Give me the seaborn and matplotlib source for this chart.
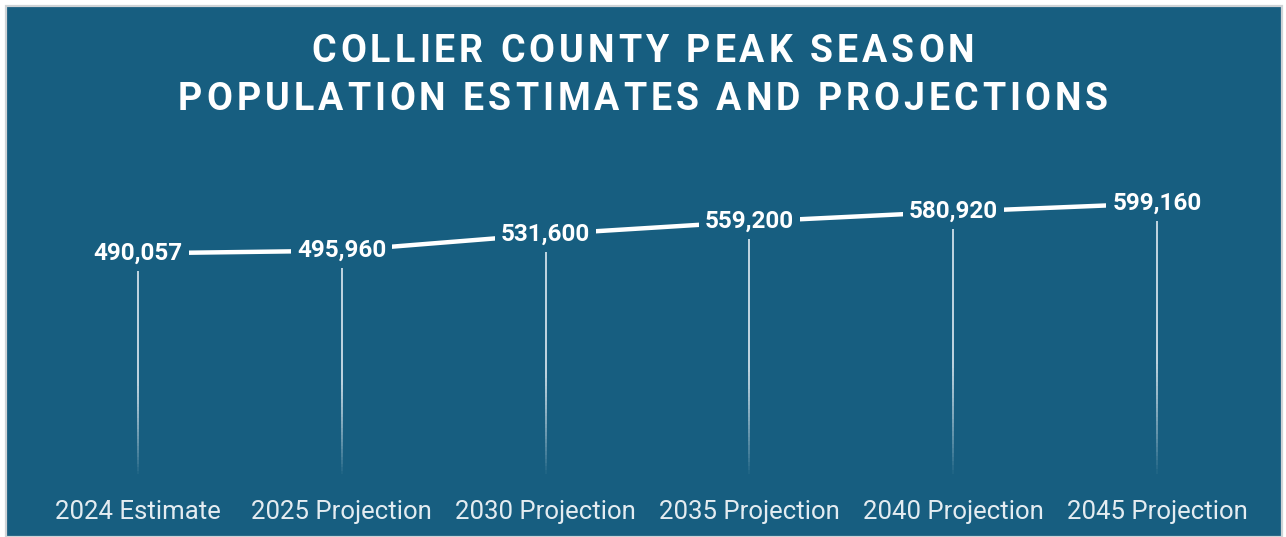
import numpy as np
import pandas as pd
import matplotlib
matplotlib.use("Agg")
import matplotlib.pyplot as plt
from matplotlib.patches import Rectangle
from matplotlib.collections import LineCollection
from matplotlib.font_manager import FontProperties
import seaborn as sns

# ---------------- DATA ----------------
periods = ["2024 Estimate", "2025 Projection", "2030 Projection",
           "2035 Projection", "2040 Projection", "2045 Projection"]
population = [490057, 495960, 531600, 559200, 580920, 599160]

title_lines = ["COLLIER COUNTY PEAK SEASON",
               "POPULATION ESTIMATES AND PROJECTIONS"]

# ---------------- STYLE ----------------
PANEL = "#175e80"
LABEL_COLOR = "#e4ecf1"

sns.set_theme(style="white")
plt.rcParams["font.family"] = ["Roboto", "DejaVu Sans"]

df = pd.DataFrame({"period": periods, "population": population})
df["pos"] = np.arange(len(df))

W, H = 1286, 537
fig = plt.figure(figsize=(W / 100, H / 100), dpi=100, facecolor="white")

# blue panel with thin gray border
fig.patches.append(Rectangle((6 / W, 0), 1276 / W, 531 / H,
                             transform=fig.transFigure, facecolor=PANEL,
                             edgecolor="#cfd3d6", linewidth=1.6, zorder=-1))

ax = fig.add_axes([0, 0.1099, 1, 0.6108], zorder=1)
ax.set_facecolor("none")

sns.lineplot(data=df, x="pos", y="population", color="white", linewidth=3.2,
             ax=ax, zorder=2)

ax.set_xlim(-0.677, 5.633)
ax.set_ylim(0, 715700)

# drop lines fading toward the bottom
gap = 36000
for x, v in zip(df["pos"], df["population"]):
    ys = np.linspace(v - gap, 0, 60)
    segs = [[(x, ys[i]), (x, ys[i + 1])] for i in range(len(ys) - 1)]
    frac = np.linspace(0, 1, len(segs))
    alphas = np.clip(1.15 - frac ** 2.2 * 1.15, 0, 0.85)
    cols = [(0.88, 0.92, 0.95, a) for a in alphas]
    ax.add_collection(LineCollection(segs, colors=cols, linewidths=1.4, zorder=1))

# value labels sitting on the line
for x, v in zip(df["pos"], df["population"]):
    ax.text(x, v, f"{v:,}", ha="center", va="center", color="white",
            fontsize=17.5, fontweight="bold", zorder=3,
            bbox=dict(boxstyle="square,pad=0.25", facecolor=PANEL, edgecolor="none"))

ax.set_xticks(df["pos"], periods)
ax.tick_params(axis="x", length=0, pad=15.5, labelsize=18.5, labelcolor=LABEL_COLOR)
ax.set_yticks([])
ax.set_xlabel("")
ax.set_ylabel("")
for s in ax.spines.values():
    s.set_visible(False)


# title with letter spacing (matplotlib has no tracking, so place char by char)
def tracked_text(line, y_px, size, tracking_px):
    prop = FontProperties(family=["Roboto", "DejaVu Sans"], weight="bold", size=size)
    rend = fig.canvas.get_renderer()
    widths = []
    for ch in line:
        w, _, _ = rend.get_text_width_height_descent(ch, prop, ismath=False)
        if ch == " ":
            w2, _, _ = rend.get_text_width_height_descent("I I", prop, ismath=False)
            w1, _, _ = rend.get_text_width_height_descent("II", prop, ismath=False)
            w = w2 - w1
        widths.append(w)
    total = sum(widths) + tracking_px * (len(line) - 1)
    x = (W - total) / 2
    for ch, w in zip(line, widths):
        fig.text(x / W, 1 - y_px / H, ch, ha="left", va="center", color="white",
                 fontproperties=prop)
        x += w + tracking_px


tracked_text(title_lines[0], 52, 27, 4)
tracked_text(title_lines[1], 100, 27, 4)

fig.savefig("out.png", dpi=100, facecolor="white")
